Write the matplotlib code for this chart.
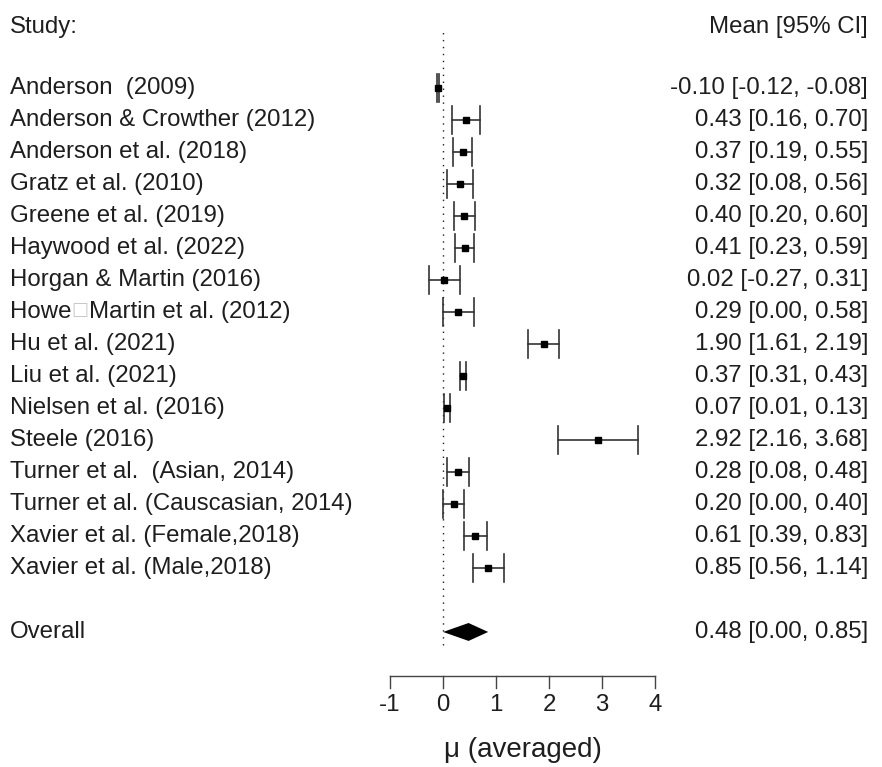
import numpy as np
import matplotlib.pyplot as plt

plt.rcParams['font.family'] = ['Liberation Sans', 'DejaVu Sans']

# data
studies = ["Anderson  (2009)", "Anderson & Crowther (2012)", "Anderson et al. (2018)",
           "Gratz et al. (2010)", "Greene et al. (2019)", "Haywood et al. (2022)",
           "Horgan & Martin (2016)", "Howe\u25a1Martin et al. (2012)", "Hu et al. (2021)",
           "Liu et al. (2021)", "Nielsen et al. (2016)", "Steele (2016)",
           "Turner et al.  (Asian, 2014)", "Turner et al. (Causcasian, 2014)",
           "Xavier et al. (Female,2018)", "Xavier et al. (Male,2018)"]
means = [-0.10, 0.43, 0.37, 0.32, 0.40, 0.41, 0.02, 0.29, 1.90, 0.37, 0.07, 2.92, 0.28, 0.20, 0.61, 0.85]
lower = [-0.12, 0.16, 0.19, 0.08, 0.20, 0.23, -0.27, 0.00, 1.61, 0.31, 0.01, 2.16, 0.08, 0.00, 0.39, 0.56]
upper = [-0.08, 0.70, 0.55, 0.56, 0.60, 0.59, 0.31, 0.58, 2.19, 0.43, 0.13, 3.68, 0.48, 0.40, 0.83, 1.14]
overall = (0.48, 0.00, 0.85)
xticks = [-1, 0, 1, 2, 3, 4]

ink = '#1e1e1e'
fs = 17.3

fig = plt.figure(figsize=(8.82, 7.67), dpi=100)
ax = fig.add_axes([0, 0, 1, 1])
ax.set_xlim(-8.36, 8.28)
ax.set_ylim(-5.22, 18.75)
ax.axis('off')

k = len(studies)
rows = np.arange(k, 0, -1)


def label_with_box(x, y, s):
    # the missing-glyph box in the source is drawn light grey
    parts = s.split('\u25a1')
    renderer = fig.canvas.get_renderer()
    for i, part in enumerate(parts):
        t = ax.text(x, y, part, ha='left', va='center', fontsize=fs, color=ink)
        bb = t.get_window_extent(renderer)
        x = ax.transData.inverted().transform((bb.x1, bb.y0))[0]
        if i < len(parts) - 1:
            b = ax.text(x, y + 0.05, '\u25a1', ha='left', va='center', fontsize=13,
                        color='#c8c8c8', family='DejaVu Sans')
            bb = b.get_window_extent(renderer)
            x = ax.transData.inverted().transform((bb.x1, bb.y0))[0]


# reference line at zero
ax.plot([0, 0], [-1.4, 17.875], ls=(0, (1, 4)), color=ink, lw=1.0)

# study estimates
for y, m, lo, hi, name in zip(rows, means, lower, upper, studies):
    ax.plot([lo, hi], [y, y], color='#333333', lw=1.2)
    ax.plot([lo, lo], [y - 0.44, y + 0.44], color='#333333', lw=1.2)
    ax.plot([hi, hi], [y - 0.44, y + 0.44], color='#333333', lw=1.2)
    ax.plot(m, y, marker='s', ms=4.5, color='black', mec='black')
    if '\u25a1' in name:
        label_with_box(-8.17, y, name)
    else:
        ax.text(-8.17, y, name, ha='left', va='center', fontsize=fs, color=ink)
    ax.text(8.02, y, f"{m:.2f} [{lo:.2f}, {hi:.2f}]", ha='right', va='center',
            fontsize=fs, color=ink)

# overall diamond
om, olo, ohi = overall
ax.fill([olo, om, ohi, om], [-1, -1 + 0.28, -1, -1 - 0.28], color='black', lw=0)
ax.text(-8.17, -1, "Overall", ha='left', va='center', fontsize=fs, color=ink)
ax.text(8.02, -1, f"{om:.2f} [{olo:.2f}, {ohi:.2f}]", ha='right', va='center',
        fontsize=fs, color=ink)

# headers
ax.text(-8.17, 17.9, "Study:", ha='left', va='center', fontsize=fs, color=ink)
ax.text(8.02, 17.9, "Mean [95% CI]", ha='right', va='center', fontsize=fs, color=ink)

# x axis
ya = -2.375
ax.plot([xticks[0], xticks[-1]], [ya, ya], color='#444444', lw=1.0)
for t in xticks:
    ax.plot([t, t], [ya, ya - 0.37], color='#444444', lw=1.0)
    ax.text(t, -3.28, f"{t}", ha='center', va='center', fontsize=fs, color=ink)
ax.text(0.5 * (xticks[0] + xticks[-1]), -4.69, "\u03bc (averaged)", ha='center',
        va='center', fontsize=20, color=ink)

fig.savefig('out.png', dpi=100)
